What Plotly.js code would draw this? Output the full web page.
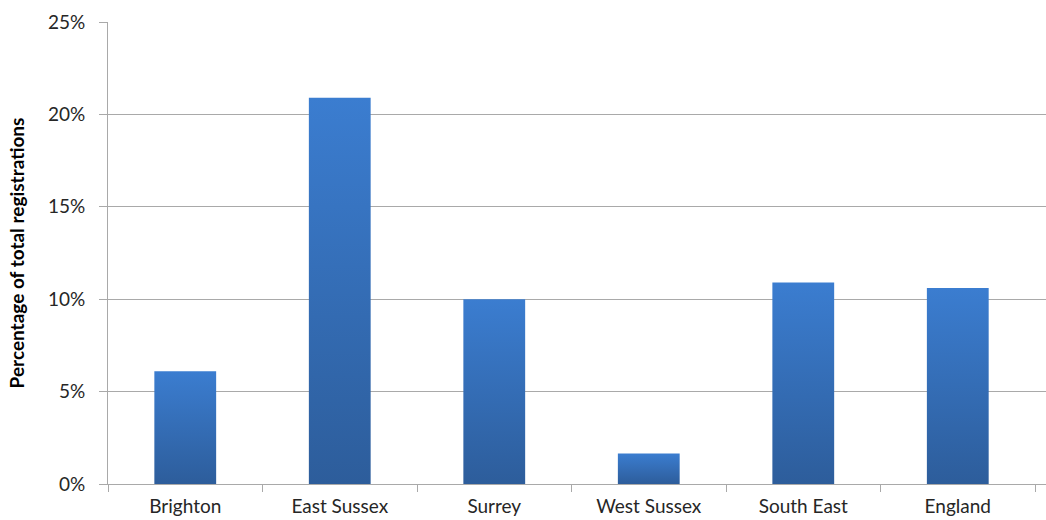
<!DOCTYPE html>
<html>
<head>
<meta charset="utf-8">
<script src="https://cdn.plot.ly/plotly-3.0.1.min.js"></script>
<style>
  html, body { margin: 0; padding: 0; background: #ffffff; overflow: hidden; }
  #chart { width: 1046px; height: 520px; }
</style>
</head>
<body>
<div id="chart"></div>
<script>
// Share of total registrations by area
const areas = ["Brighton", "East Sussex", "Surrey", "West Sussex", "South East", "England"];
const sharePct = [6.1, 20.9, 10.0, 1.65, 10.9, 10.6];
const yTickVals = [0, 5, 10, 15, 20, 25];
const yTickText = ["0%", "5%", "10%", "15%", "20%", "25%"];

const FONT = "Lato, 'Open Sans', sans-serif";
const GRID = "#a9a9a9";
const TEXT = "#262626";

const trace = {
  type: "bar",
  x: areas,
  y: sharePct,
  marker: { color: "#3570b8", line: { width: 0 } },
  hoverinfo: "x+y"
};

const layout = {
  width: 1046,
  height: 520,
  margin: { l: 108, r: 0, t: 22, b: 36, pad: 0 },
  paper_bgcolor: "#ffffff",
  plot_bgcolor: "#ffffff",
  bargap: 0.6,
  showlegend: false,
  font: { family: FONT, size: 19, color: TEXT },
  xaxis: {
    type: "category",
    range: [-0.5, 5.571],
    showgrid: false,
    showline: true,
    linecolor: GRID,
    linewidth: 1,
    ticks: "outside",
    tickson: "boundaries",
    ticklen: 7,
    tickcolor: GRID,
    tickfont: { family: FONT, size: 19, color: TEXT },
    ticklabelstandoff: 5,
    zeroline: false,
    fixedrange: true
  },
  yaxis: {
    range: [0, 25],
    tickvals: yTickVals,
    ticktext: yTickText,
    showgrid: true,
    gridcolor: GRID,
    gridwidth: 1,
    showline: true,
    linecolor: GRID,
    linewidth: 1,
    ticks: "outside",
    ticklen: 8,
    tickcolor: GRID,
    tickfont: { family: FONT, size: 19, color: TEXT },
    ticklabelstandoff: 10,
    zeroline: false,
    fixedrange: true,
    title: {
      text: "<b>Percentage of total registrations</b>",
      font: { family: FONT, size: 19, color: "#000000" },
      standoff: 18
    }
  }
};

Plotly.newPlot("chart", [trace], layout, { staticPlot: true, displayModeBar: false }).then(function (gd) {
  // Vertical light-to-dark fill on every bar
  const svg = gd.querySelector("svg.main-svg");
  const ns = "http://www.w3.org/2000/svg";
  let defs = svg.querySelector("defs");
  if (!defs) { defs = document.createElementNS(ns, "defs"); svg.insertBefore(defs, svg.firstChild); }
  const grad = document.createElementNS(ns, "linearGradient");
  grad.setAttribute("id", "barFill");
  grad.setAttribute("x1", "0"); grad.setAttribute("y1", "0");
  grad.setAttribute("x2", "0"); grad.setAttribute("y2", "1");
  [["0%", "#3b7dd0"], ["100%", "#2d5d9b"]].forEach(function (s) {
    const stop = document.createElementNS(ns, "stop");
    stop.setAttribute("offset", s[0]);
    stop.setAttribute("stop-color", s[1]);
    grad.appendChild(stop);
  });
  defs.appendChild(grad);
  gd.querySelectorAll(".bars .point path").forEach(function (p) {
    p.style.fill = "url(#barFill)";
  });
});
</script>
</body>
</html>
